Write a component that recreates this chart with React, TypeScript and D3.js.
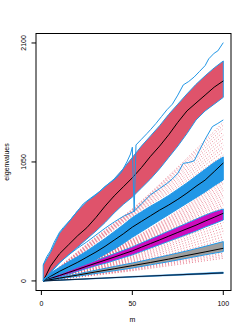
import React from "react";
import * as d3 from "d3";

// ---------- data ----------
const M_BAND = [1, 5, 10, 15, 20, 25, 30, 35, 40, 45, 50, 55, 60, 65, 70, 75, 80, 85, 90, 95, 100];

const redUpper = [141, 250, 420, 520, 620, 700, 760, 830, 900, 990, 1090, 1190, 1280, 1370, 1470, 1560, 1650, 1735, 1810, 1880, 1941];
const redLower = [0, 70, 160, 230, 300, 370, 440, 515, 600, 675, 740, 820, 900, 990, 1090, 1190, 1300, 1420, 1500, 1560, 1620];
const redMedian = [0, 130, 240, 320, 400, 470, 560, 660, 750, 830, 910, 1000, 1100, 1190, 1290, 1400, 1500, 1570, 1640, 1710, 1765];

const blueUpper = [10, 70, 120, 170, 215, 265, 320, 375, 435, 495, 560, 610, 660, 705, 755, 810, 865, 925, 985, 1045, 1094];
const blueLower = [0, 15, 45, 80, 115, 150, 190, 235, 280, 330, 385, 435, 485, 535, 585, 635, 685, 735, 785, 840, 891];
const blueMedian = [0, 40, 85, 125, 165, 210, 255, 305, 360, 415, 475, 525, 575, 625, 670, 720, 775, 835, 890, 965, 1041];

const magUpper = [0, 30, 60, 90, 120, 150, 180, 210, 240, 270, 300, 335, 370, 405, 440, 475, 510, 545, 580, 610, 635];
const magLower = [0, 15, 35, 60, 85, 110, 135, 155, 180, 205, 230, 260, 290, 320, 350, 380, 410, 440, 475, 505, 538];
const magMedian = [0, 22, 48, 75, 102, 130, 157, 183, 210, 238, 265, 298, 330, 362, 395, 428, 460, 492, 528, 562, 597];

const M_GRAY = [1, 10, 20, 30, 40, 50, 60, 70, 80, 90, 100];
const grayUpper = [0, 30, 62, 95, 127, 158, 192, 228, 265, 305, 347];
const grayLower = [0, 20, 42, 66, 90, 114, 142, 170, 200, 230, 259];
const grayMedian = [0, 25, 52, 80, 107, 135, 163, 193, 225, 256, 288];

const M_LOW = [1, 50, 100];
const lowUpper = [0, 40, 78];
const lowLower = [0, 33, 66];
const lowMedian = [0, 37, 72];

// max line of the first eigenvalue (with a dip at m = 51)
const M_MAX1 = [1, 3, 5, 7, 10, 12, 16, 19, 21, 23, 25, 27, 30, 32, 35, 38, 41, 44, 47, 49, 50, 51, 52, 55, 58, 60, 63, 66, 69, 72, 75, 78, 81, 84, 87, 90, 92, 95, 97, 100];
const max1 = [141, 215, 265, 340, 430, 470, 540, 600, 640, 680, 705, 730, 765, 790, 835, 870, 905, 960, 1050, 1120, 1180, 610, 1200, 1250, 1300, 1335, 1390, 1450, 1510, 1560, 1640, 1730, 1760, 1800, 1850, 1900, 1960, 2010, 2030, 2103];

// max line of the second eigenvalue
const M_MAX2 = [1, 5, 10, 15, 20, 25, 30, 35, 40, 45, 51, 55, 60, 65, 69, 72, 75, 78, 81, 84, 87, 90, 94, 97, 100];
const max2 = [0, 80, 160, 230, 290, 345, 405, 465, 520, 570, 615, 680, 760, 815, 860, 900, 950, 1038, 1045, 1060, 1156, 1250, 1362, 1390, 1421];

// individual simulated traces (dotted)
const M_DOT = [1, 25, 50, 75, 100];
const tracesA = [
  [0, 275, 570, 830, 1110], [0, 280, 578, 850, 1140], [0, 285, 586, 870, 1170],
  [0, 290, 594, 890, 1195], [0, 295, 600, 910, 1225], [0, 300, 606, 928, 1255],
  [0, 305, 612, 946, 1285], [0, 310, 618, 962, 1315], [0, 315, 624, 978, 1345],
  [0, 320, 630, 992, 1375], [0, 325, 636, 1005, 1400],
];
const tracesB = [
  [0, 152, 305, 485, 650], [0, 153, 311, 497, 670], [0, 154, 317, 509, 690],
  [0, 155, 323, 521, 712], [0, 156, 329, 533, 733], [0, 157, 335, 545, 755],
  [0, 158, 341, 557, 776], [0, 159, 347, 569, 797], [0, 160, 353, 581, 818],
  [0, 160, 359, 593, 839], [0, 161, 365, 605, 860], [0, 162, 371, 617, 880],
];
const tracesC = [
  [0, 82, 165, 255, 365], [0, 86, 175, 275, 390], [0, 90, 185, 295, 415],
  [0, 94, 194, 315, 440], [0, 98, 203, 335, 465], [0, 102, 212, 352, 490],
  [0, 106, 222, 370, 515],
];
const tracesD = [
  [0, 42, 90, 145, 200], [0, 45, 96, 157, 215], [0, 48, 102, 168, 230], [0, 51, 108, 178, 245],
];

const xTicks = [0, 50, 100];
const yTicks = [0, 1050, 2100];

// ---------- component ----------
export default function App() {
  const W = 249, H = 332;
  const x = d3.scaleLinear().domain([-2.96, 103.96]).range([36, 230.5]);
  const y = d3.scaleLinear().domain([-80, 2188]).range([290, 33]);

  const line = (ms: number[], vs: number[]) =>
    d3.line<number>().x((_, i) => x(ms[i])).y((v) => y(v))(vs) || "";
  const smooth = (ms: number[], vs: number[]) =>
    d3.line<number>().x((_, i) => x(ms[i])).y((v) => y(v)).curve(d3.curveMonotoneX)(vs) || "";
  const area = (ms: number[], lo: number[], hi: number[]) =>
    d3.area<number>().x((_, i) => x(ms[i])).y0((_, i) => y(lo[i])).y1((v) => y(v))(hi) || "";

  const font = "'Liberation Sans', Arial, Helvetica, sans-serif";
  const BLUE = "#2297E6";
  const RED = "#DF536B";

  const dotted = (tr: number[][], key: string) =>
    tr.map((t, i) => (
      <path key={key + i} d={smooth(M_DOT, t)} fill="none" stroke={RED} strokeWidth={1} strokeDasharray="1 2" opacity={0.7} />
    ));

  return (
    <svg width={W} height={H} style={{ position: "absolute", left: 0, top: 0, background: "#fff" }}>
      <defs>
        <clipPath id="plotclip">
          <rect x={36} y={33} width={195} height={257} />
        </clipPath>
      </defs>
      <g clipPath="url(#plotclip)">
        {dotted(tracesA, "a")}
        {dotted(tracesB, "b")}
        {dotted(tracesC, "c")}
        {dotted(tracesD, "d")}

        <path d={area(M_BAND, redLower, redUpper)} fill={RED} stroke={BLUE} strokeWidth={1} />
        <path d={line(M_BAND, redMedian)} fill="none" stroke="#000" strokeWidth={1} />

        <path d={area(M_BAND, blueLower, blueUpper)} fill={BLUE} stroke={BLUE} strokeWidth={1} />
        <path d={line(M_BAND, blueMedian)} fill="none" stroke="#000" strokeWidth={1} />

        <path d={area(M_BAND, magLower, magUpper)} fill="#CD0BBC" stroke={BLUE} strokeWidth={1} />
        <path d={line(M_BAND, magMedian)} fill="none" stroke="#000" strokeWidth={1} />

        <path d={area(M_GRAY, grayLower, grayUpper)} fill="#9E9E9E" stroke={BLUE} strokeWidth={1} />
        <path d={line(M_GRAY, grayMedian)} fill="none" stroke="#000" strokeWidth={1} />

        <path d={area(M_LOW, lowLower, lowUpper)} fill={BLUE} stroke={BLUE} strokeWidth={0.6} />
        <path d={line(M_LOW, lowMedian)} fill="none" stroke="#0c2340" strokeWidth={1.2} />

        <path d={line(M_MAX1, max1)} fill="none" stroke={BLUE} strokeWidth={1} />
        <path d={line(M_MAX2, max2)} fill="none" stroke={BLUE} strokeWidth={1} />
      </g>

      {/* frame */}
      <line x1={36} x2={231} y1={33.5} y2={33.5} stroke="#000" strokeWidth={1} />
      <line x1={36} x2={231} y1={290.5} y2={290.5} stroke="#000" strokeWidth={1} />
      <line x1={36} x2={36} y1={33} y2={291} stroke="#000" strokeWidth={1} />
      <line x1={231} x2={231} y1={33} y2={291} stroke="#000" strokeWidth={1} />

      {/* x axis */}
      {xTicks.map((t) => (
        <g key={"x" + t}>
          <line x1={x(t)} x2={x(t)} y1={290} y2={295} stroke="#000" strokeWidth={1} />
          <text x={x(t)} y={305.5} textAnchor="middle" fontFamily={font} fontSize={7} fill="#000">{t}</text>
        </g>
      ))}
      {/* y axis */}
      {yTicks.map((t) => (
        <g key={"y" + t}>
          <line x1={31.5} x2={36} y1={y(t)} y2={y(t)} stroke="#000" strokeWidth={1} />
          <text transform={`translate(25.5,${y(t)}) rotate(-90)`} textAnchor="middle" fontFamily={font} fontSize={7} fill="#000">{t}</text>
        </g>
      ))}
      <text x={x(50)} y={321.5} textAnchor="middle" fontFamily={font} fontSize={7} fill="#000">m</text>
      <text transform={`translate(8.5,162) rotate(-90)`} textAnchor="middle" fontFamily={font} fontSize={7} fill="#000">eigenvalues</text>
    </svg>
  );
}
